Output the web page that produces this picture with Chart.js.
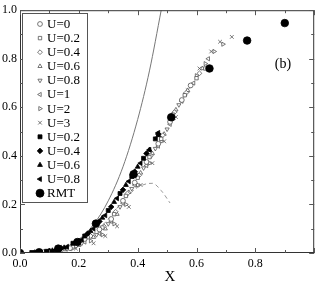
<!DOCTYPE html>
<html lang="en">
<head>
    <meta charset="UTF-8">
    <title>Fig (b)</title>
    <script src="https://cdn.jsdelivr.net/npm/chart.js"></script>
    <style>
        body { margin: 0; background: #fff; }
        canvas { display: block; }
    </style>
</head>
<body>
    <canvas id="chart" width="319" height="285"></canvas>

    <script>
        // open symbols, U = 0 ... 3
        const u0X = [0, 0.06, 0.12, 0.17, 0.22, 0.27, 0.31, 0.35, 0.39, 0.43, 0.47, 0.51, 0.55, 0.58];
        const u0Y = [0, 0.002, 0.008, 0.02, 0.058, 0.097, 0.14, 0.215, 0.29, 0.375, 0.45, 0.54, 0.63, 0.69];
        const u02X = [0, 0.07, 0.13, 0.18, 0.23, 0.28, 0.32, 0.36, 0.4, 0.44, 0.48, 0.52, 0.56, 0.6, 0.63];
        const u02Y = [0, 0.003, 0.01, 0.027, 0.065, 0.105, 0.16, 0.235, 0.31, 0.395, 0.47, 0.57, 0.65, 0.72, 0.76];
        const u04X = [0, 0.08, 0.14, 0.19, 0.24, 0.285, 0.325, 0.365, 0.405, 0.445, 0.485, 0.525, 0.565, 0.61];
        const u04Y = [0, 0.004, 0.012, 0.03, 0.07, 0.11, 0.17, 0.245, 0.32, 0.4, 0.485, 0.58, 0.66, 0.74];
        const u06X = [0, 0.09, 0.15, 0.2, 0.25, 0.29, 0.33, 0.37, 0.41, 0.45, 0.49, 0.53, 0.57, 0.62];
        const u06Y = [0, 0.005, 0.014, 0.032, 0.065, 0.1, 0.16, 0.25, 0.33, 0.41, 0.49, 0.59, 0.67, 0.76];
        const u08X = [0, 0.1, 0.16, 0.21, 0.26, 0.3, 0.34, 0.38, 0.42, 0.46, 0.5, 0.54, 0.58];
        const u08Y = [0, 0.006, 0.016, 0.04, 0.075, 0.12, 0.19, 0.265, 0.35, 0.43, 0.51, 0.61, 0.69];
        const u1X = [0, 0.11, 0.17, 0.22, 0.27, 0.31, 0.35, 0.39, 0.43, 0.47, 0.51, 0.55, 0.59, 0.64];
        const u1Y = [0, 0.006, 0.018, 0.045, 0.08, 0.13, 0.205, 0.28, 0.36, 0.44, 0.53, 0.625, 0.7, 0.8];
        const u2X = [0, 0.12, 0.18, 0.24, 0.28, 0.32, 0.36, 0.4, 0.44, 0.48, 0.52, 0.56, 0.6, 0.63, 0.66, 0.69];
        const u2Y = [0, 0.006, 0.02, 0.05, 0.075, 0.12, 0.2, 0.28, 0.37, 0.46, 0.55, 0.65, 0.73, 0.78, 0.83, 0.86];
        const u3X = [0, 0.13, 0.19, 0.25, 0.29, 0.33, 0.37, 0.41, 0.45, 0.49, 0.53, 0.57, 0.61, 0.65, 0.68, 0.72];
        const u3Y = [0, 0.005, 0.018, 0.04, 0.07, 0.11, 0.19, 0.28, 0.37, 0.46, 0.56, 0.67, 0.76, 0.83, 0.87, 0.89];

        // filled symbols
        const f02X = [0, 0.04, 0.09, 0.13, 0.18, 0.22, 0.26, 0.3, 0.34, 0.38, 0.42, 0.46];
        const f02Y = [0, 0.002, 0.007, 0.018, 0.04, 0.07, 0.12, 0.175, 0.245, 0.315, 0.39, 0.47];
        const f04X = [0, 0.05, 0.1, 0.14, 0.19, 0.23, 0.27, 0.31, 0.35, 0.39, 0.43, 0.47];
        const f04Y = [0, 0.002, 0.009, 0.02, 0.045, 0.08, 0.13, 0.19, 0.26, 0.335, 0.41, 0.49];
        const f06X = [0, 0.06, 0.11, 0.15, 0.2, 0.24, 0.28, 0.32, 0.36, 0.4, 0.44, 0.47];
        const f06Y = [0, 0.003, 0.01, 0.022, 0.05, 0.09, 0.145, 0.21, 0.28, 0.355, 0.425, 0.485];
        const f08X = [0, 0.07, 0.12, 0.16, 0.21, 0.25, 0.29, 0.33, 0.37, 0.41, 0.44, 0.47];
        const f08Y = [0, 0.004, 0.012, 0.026, 0.055, 0.1, 0.155, 0.225, 0.295, 0.37, 0.425, 0.495];

        const rmtX = [0, 0.065, 0.13, 0.195, 0.258, 0.386, 0.514, 0.644, 0.772, 0.9];
        const rmtY = [0, 0.003, 0.018, 0.045, 0.121, 0.324, 0.559, 0.76, 0.875, 0.947];

        // curves
        const solidX = [0, 0.1, 0.15, 0.2, 0.25, 0.3, 0.35, 0.4, 0.44, 0.48];
        const solidY = [0, 0.006, 0.022, 0.056, 0.117, 0.215, 0.355, 0.55, 0.75, 1.0];
        const dashX = [0, 0.1, 0.2, 0.26, 0.3, 0.34, 0.37, 0.4, 0.43, 0.45, 0.48, 0.51];
        const dashY = [0, 0.005, 0.04, 0.09, 0.14, 0.2, 0.24, 0.27, 0.285, 0.287, 0.257, 0.206];

        const ticksX = [0, 0.2, 0.4, 0.6, 0.8];
        const ticksY = [0, 0.2, 0.4, 0.6, 0.8, 1.0];

        const serif = "'Liberation Serif', 'DejaVu Serif', serif";
        const openColor = "#555";

        function pts(xs, ys) {
            return xs.map((x, i) => ({ x: x, y: ys[i] }));
        }

        function openSet(label, xs, ys, style, rot) {
            return {
                label: label, data: pts(xs, ys), pointStyle: style, rotation: rot || 0,
                pointRadius: style === "crossRot" ? 2.6 : 2.4, borderWidth: 0.8,
                borderColor: openColor, backgroundColor: "#fff", showLine: false, order: 3
            };
        }

        function filledSet(label, xs, ys, style, rot, r) {
            return {
                label: label, data: pts(xs, ys), pointStyle: style, rotation: rot || 0,
                pointRadius: r || 2.8, borderWidth: 0.8,
                borderColor: "#000", backgroundColor: "#000", showLine: false, order: 2
            };
        }

        const datasets = [
            openSet("U=0", u0X, u0Y, "circle"),
            openSet("U=0.2", u02X, u02Y, "rect"),
            openSet("U=0.4", u04X, u04Y, "rectRot"),
            openSet("U=0.6", u06X, u06Y, "triangle"),
            openSet("U=0.8", u08X, u08Y, "triangle", 180),
            openSet("U=1", u1X, u1Y, "triangle", 270),
            openSet("U=2", u2X, u2Y, "triangle", 90),
            openSet("U=3", u3X, u3Y, "crossRot"),
            filledSet("U=0.2", f02X, f02Y, "rect"),
            filledSet("U=0.4", f04X, f04Y, "rectRot"),
            filledSet("U=0.6", f06X, f06Y, "triangle"),
            filledSet("U=0.8", f08X, f08Y, "triangle", 270),
            filledSet("RMT", rmtX, rmtY, "circle", 0, 3.8),
            {
                label: "", data: pts(solidX, solidY), showLine: true, pointRadius: 0,
                borderColor: "#777", borderWidth: 1, cubicInterpolationMode: "monotone", order: 5
            },
            {
                label: "", data: pts(dashX, dashY), showLine: true, pointRadius: 0,
                borderColor: "#999", borderWidth: 1, borderDash: [4, 3], cubicInterpolationMode: "monotone", order: 5
            }
        ];

        const framePlugin = {
            id: "frame",
            afterDraw(chart) {
                const ctx = chart.ctx;
                const a = chart.chartArea;
                const xs = chart.scales.x, ys = chart.scales.y;
                ctx.save();
                ctx.strokeStyle = "#333";
                ctx.lineWidth = 1;
                ctx.strokeRect(a.left + 0.5, a.top + 0.5, a.right - a.left - 1, a.bottom - a.top - 1);

                // inward ticks on all sides
                ctx.strokeStyle = "#555";
                ctx.beginPath();
                for (let i = 0; i <= 10; i++) {
                    const len = i % 2 === 0 ? 5 : 3;
                    const px = Math.round(xs.getPixelForValue(i / 10)) + 0.5;
                    ctx.moveTo(px, a.bottom); ctx.lineTo(px, a.bottom - len);
                    ctx.moveTo(px, a.top); ctx.lineTo(px, a.top + len);
                    const py = Math.round(ys.getPixelForValue(i / 10)) + 0.5;
                    ctx.moveTo(a.left, py); ctx.lineTo(a.left + len, py);
                    ctx.moveTo(a.right, py); ctx.lineTo(a.right - len, py);
                }
                ctx.stroke();

                // legend box
                const bx = 22.5, by = 13.5, bw = 65, bh = 189;
                ctx.fillStyle = "#fff";
                ctx.fillRect(bx, by, bw, bh);
                ctx.strokeStyle = "#555";
                ctx.strokeRect(bx, by, bw, bh);
                ctx.font = "13px " + serif;
                ctx.textBaseline = "middle";
                ctx.textAlign = "left";
                let k = 0;
                chart.data.datasets.forEach(ds => {
                    if (!ds.label) return;
                    const ey = 24 + k * 14.1;
                    ctx.fillStyle = ds.backgroundColor;
                    ctx.strokeStyle = ds.borderColor;
                    ctx.lineWidth = ds.borderWidth;
                    Chart.helpers.drawPoint(ctx, {
                        pointStyle: ds.pointStyle, rotation: ds.rotation,
                        radius: ds.label === "RMT" ? 4 : ds.pointRadius, borderWidth: ds.borderWidth
                    }, 40, ey);
                    ctx.fillStyle = "#000";
                    ctx.fillText(ds.label, 47, ey + 0.5);
                    k++;
                });

                // axis title and panel label
                ctx.fillStyle = "#000";
                ctx.textAlign = "center";
                ctx.font = "15px " + serif;
                ctx.fillText("X", 170, 277);
                ctx.font = "14px " + serif;
                ctx.fillText("(b)", 283, 64);
                ctx.restore();
            }
        };

        new Chart(document.getElementById("chart"), {
            type: "scatter",
            data: { datasets: datasets },
            options: {
                responsive: false,
                animation: false,
                devicePixelRatio: 1,
                layout: { padding: { top: 6, right: 1, left: 0, bottom: 0 } },
                plugins: { legend: { display: false }, tooltip: { enabled: false } },
                scales: {
                    x: {
                        type: "linear", min: 0, max: 1,
                        afterFit(s) { s.height = 32; },
                        afterBuildTicks(s) { s.ticks = ticksX.map(v => ({ value: v })); },
                        grid: { display: false, drawTicks: false },
                        border: { display: false },
                        ticks: {
                            padding: 4, maxRotation: 0, autoSkip: false, color: "#000",
                            font: { family: serif, size: 12 },
                            callback: v => v.toFixed(1)
                        }
                    },
                    y: {
                        type: "linear", min: 0, max: 1,
                        afterFit(s) { s.width = 20; },
                        afterBuildTicks(s) { s.ticks = ticksY.map(v => ({ value: v })); },
                        grid: { display: false, drawTicks: false },
                        border: { display: false },
                        ticks: {
                            padding: 3, color: "#000",
                            font: { family: serif, size: 12 },
                            callback: v => v.toFixed(1)
                        }
                    }
                }
            },
            plugins: [framePlugin]
        });
    </script>
</body>
</html>
